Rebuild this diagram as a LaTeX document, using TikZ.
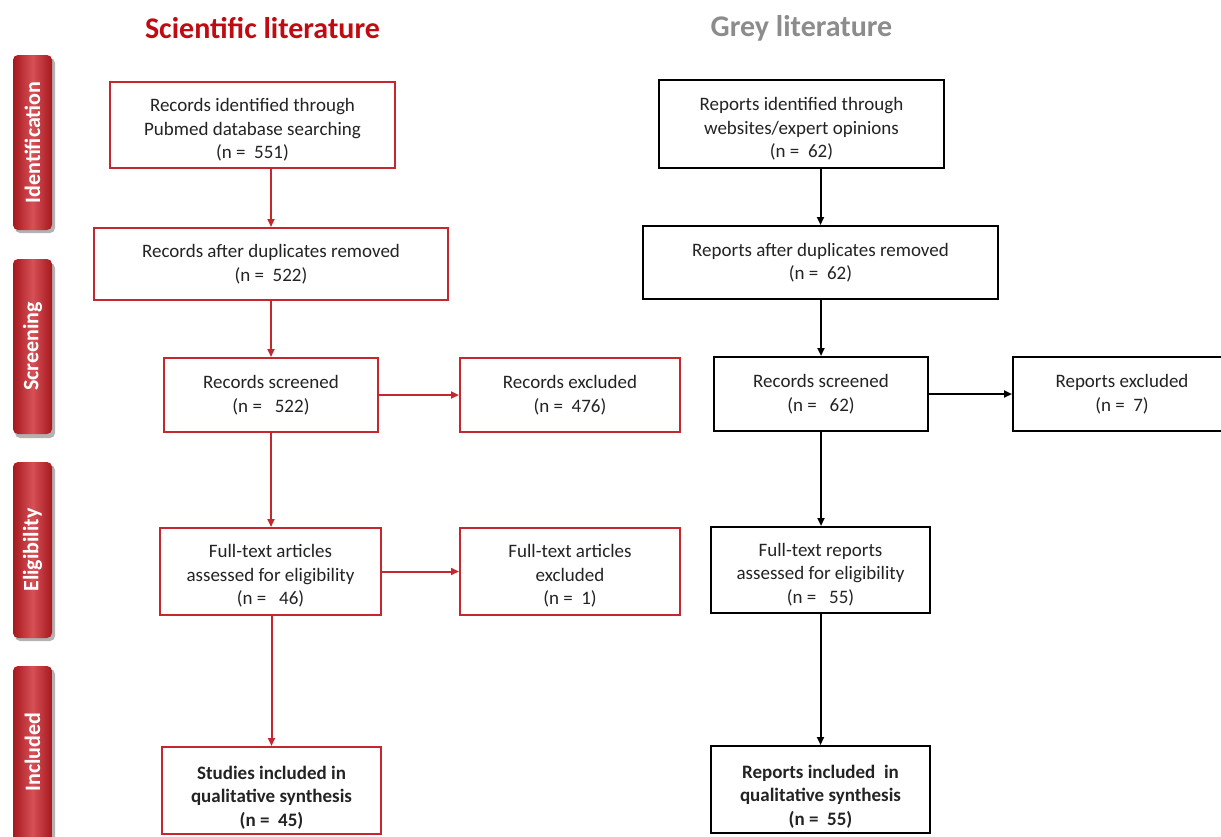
\documentclass[tikz,border=0pt]{standalone}
\usepackage{fontspec}
\setmainfont{Carlito}
\usetikzlibrary{arrows.meta}
\definecolor{redb}{RGB}{196,40,46}
\definecolor{titlered}{RGB}{192,10,20}
\definecolor{titlegrey}{RGB}{140,140,140}
\definecolor{txt}{RGB}{35,35,35}
\definecolor{tabdark}{RGB}{165,24,30}
\definecolor{tablight}{RGB}{214,80,86}
\newcommand\tupstrut[1]{\rule{0pt}{#1}}
\tikzset{
  box/.style={draw=redb, line width=2pt, align=center, inner sep=0pt, text=txt,
    font=\fontsize{19}{23.5}\selectfont},
  gbox/.style={box, draw=black},
  arr/.style={-{Triangle[length=8pt,width=7pt]}, line width=2pt, draw=redb},
  garr/.style={arr, draw=black},
  title/.style={font=\fontsize{30}{34}\selectfont\bfseries},
  tabtext/.style={text=white, font=\fontsize{22}{24}\selectfont\bfseries, rotate=90, inner sep=0pt},
  tabshape/.style={rounded corners=5pt, left color=tabdark, right color=tabdark, middle color=tablight},
  tabshadow/.style={fill=black, opacity=0.3, rounded corners=5pt}
}
\begin{document}
\begin{tikzpicture}[x=1pt,y=-1pt]
\useasboundingbox (0,0) rectangle (1221,836);
\fill[white] (0,0) rectangle (1221,836);
\begin{scope}
\clip (0,0) rectangle (1221,836);

% titles
\node[title, text=titlered] (tsci) at (262.5,28) {Scientific literature};
\node[title, text=titlegrey] (tgrey) at (801.5,28) {Grey literature};

% side tabs
\fill[tabshadow] (15,58) rectangle (55,233);
\shade[tabshape] (13,55) rectangle (52,230);
\node[tabtext] (tab1) at (32.5,142.5) {Identification};
\fill[tabshadow] (15,263) rectangle (55,438);
\shade[tabshape] (13,259) rectangle (52,434);
\node[tabtext] (tab2) at (32.5,346.5) {Screening};
\fill[tabshadow] (15,465) rectangle (55,641);
\shade[tabshape] (13,462) rectangle (52,638);
\node[tabtext] (tab3) at (32.5,550) {Eligibility};
\fill[tabshadow] (15,669) rectangle (55,860);
\shade[tabshape] (13,666) rectangle (52,860);
\node[tabtext] (tab4) at (32.5,752) {Included};

% scientific literature column
\node[box, minimum width=285pt, minimum height=86pt] (A1) at (252.5,125)
  {\tupstrut{23pt}Records identified through\\Pubmed database searching\\(n =\ \ 551)};
\node[box, minimum width=354pt, minimum height=72pt] (A2) at (271,264)
  {Records after duplicates removed\\(n =\ \ 522)};
\node[box, minimum width=214pt, minimum height=74pt] (A3) at (271,395)
  {Records screened\\(n =\ \ \ 522)};
\node[box, minimum width=220pt, minimum height=74pt] (A4) at (570,395)
  {Records excluded\\(n =\ \ 476)};
\node[box, minimum width=221pt, minimum height=87pt] (A5) at (270.5,571.5)
  {\tupstrut{22pt}Full-text articles\\assessed for eligibility\\(n =\ \ \ 46)};
\node[box, minimum width=220pt, minimum height=87pt] (A6) at (570,571.5)
  {\tupstrut{22pt}Full-text articles\\excluded\\(n =\ \ 1)};
\node[box, minimum width=219pt, minimum height=87pt, font=\fontsize{19}{23.5}\selectfont\bfseries] (A7) at (271.5,790.5)
  {\tupstrut{27pt}Studies included in\\qualitative synthesis\\(n =\ \ 45)};

% grey literature column
\node[gbox, minimum width=285pt, minimum height=88pt] (B1) at (801.5,124)
  {\tupstrut{23pt}Reports identified through\\websites/expert opinions\\(n =\ \ 62)};
\node[gbox, minimum width=355pt, minimum height=73pt] (B2) at (820.5,262.5)
  {Reports after duplicates removed\\(n =\ \ 62)};
\node[gbox, minimum width=214pt, minimum height=74pt] (B3) at (821,394)
  {Records screened\\(n =\ \ \ 62)};
\node[gbox, minimum width=218pt, minimum height=74pt] (B4) at (1122,394)
  {Reports excluded\\(n =\ \ 7)};
\node[gbox, minimum width=219pt, minimum height=86pt] (B5) at (820.5,570)
  {\tupstrut{22pt}Full-text reports\\assessed for eligibility\\(n =\ \ \ 55)};
\node[gbox, minimum width=219pt, minimum height=87pt, font=\fontsize{19}{23.5}\selectfont\bfseries] (B6) at (820.5,789.5)
  {\tupstrut{27pt}Reports included\ \ in\\qualitative synthesis\\(n =\ \ 55)};

% connectors
\draw[arr] (A1.south -| A2.north) -- (A2.north);
\draw[arr] (A2.south -| A3.north) -- (A3.north);
\draw[arr] (A3.east) -- (A4.west);
\draw[arr] (A3.south) -- (A5.north -| A3.south);
\draw[arr] (A5.east) -- (A6.west);
\draw[arr] (A5.south -| A7.north) -- (A7.north);

\draw[garr] (B1.south -| B2.north) -- (B2.north);
\draw[garr] (B2.south -| B3.north) -- (B3.north);
\draw[garr] (B3.east) -- (B4.west);
\draw[garr] (B3.south) -- (B5.north -| B3.south);
\draw[garr] (B5.south) -- (B6.north);
\end{scope}
\end{tikzpicture}
\end{document}
